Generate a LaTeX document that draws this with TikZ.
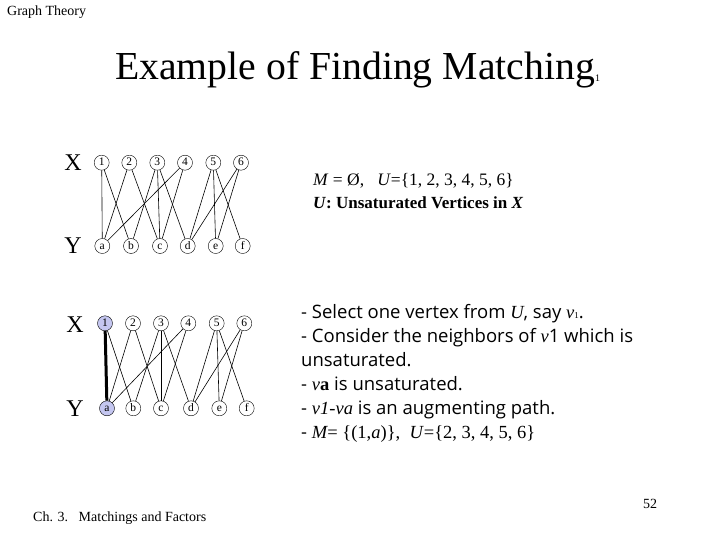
\documentclass[tikz,border=0pt]{standalone}
\usepackage{fontspec}
\setmainfont{Liberation Serif}
\newfontfamily\slidesans{Open Sans}
\usetikzlibrary{positioning}
\definecolor{matched}{RGB}{196,198,240}

\begin{document}
\begin{tikzpicture}[x=1pt, y=-1pt,
    vtx/.style={draw, circle, inner sep=0pt, minimum size=15pt, text height=0.66em, text depth=0.04em, font=\fontsize{11.5}{11.5}\selectfont},
    hit/.style={vtx, fill=matched},
    side/.style={inner sep=0pt, font=\fontsize{24}{24}\selectfont},
    txt/.style={anchor=base west, inner sep=0pt},
    note/.style={txt, font=\slidesans\fontsize{18.5}{20}\selectfont},
    ln/.style={line width=0.6pt},
    mln/.style={line width=3pt}
  ]
  \useasboundingbox (0,0) rectangle (720,540);

  \node[txt, font=\fontsize{14}{14}\selectfont] (head) at (7,16) {Graph Theory};
  \node[txt, font=\fontsize{39.7}{39.7}\selectfont] (title) at (115,80) {Example of Finding Matching};
  \node[txt, font=\fontsize{10}{10}\selectfont] (sub) at ([yshift=-2pt]title.base east) {1};

  \node[side] (ulx) at (73,163) {X};
  \node[side] (uly) at (73,246) {Y};
  \foreach \n/\xx in {1/101.7, 2/129.3, 3/157.3, 4/185, 5/213.3, 6/241}
    \node[vtx] (ux\n) at (\xx,162.7) {\n};
  \foreach \n/\xx in {a/102.3, b/131, c/160, d/187.7, e/215.7, f/242.7}
    \node[vtx] (uy\n) at (\xx,246) {\n};
  \foreach \s/\t in {1/a, 1/b, 2/a, 2/c, 3/b, 3/c, 3/d, 4/a, 4/c, 5/d, 5/e, 5/f, 6/d, 6/e}
    \draw[ln] (ux\s) -- (uy\t);

  \node[txt, font=\fontsize{17.5}{17.5}\selectfont] (mset) at (313,186)
    {\textit{M} = Ø,\enspace\ \textit{U}=\{1, 2, 3, 4, 5, 6\}};
  \node[txt, font=\bfseries\fontsize{17}{17}\selectfont] (uset) at (313,209)
    {\textit{U}: Unsaturated Vertices in \textit{X}};

  \node[side] (llx) at (75,325) {X};
  \node[side] (lly) at (75,409) {Y};
  \foreach \n/\xx in {2/133, 3/161, 4/188.3, 5/216.7, 6/244.3}
    \node[vtx] (lx\n) at (\xx,323.3) {\n};
  \node[hit] (lx1) at (105,323.3) {1};
  \foreach \n/\xx in {b/133.3, c/161, d/191, e/219.3, f/246.7}
    \node[vtx] (ly\n) at (\xx,408.3) {\n};
  \node[hit] (lya) at (107,408.3) {a};
  \foreach \s/\t in {1/b, 2/a, 2/c, 3/b, 3/c, 3/d, 4/a, 4/c, 5/d, 5/e, 5/f, 6/d, 6/e}
    \draw[ln] (lx\s) -- (ly\t);
  \draw[mln] (lx1) -- (lya);

  \node[note] (st1) at (301,318) {- Select one vertex from {\rmfamily\itshape U}, say {\rmfamily\itshape v}{\rmfamily\small 1}.};
  \node[note] (st2) at (301,342) {- Consider the neighbors of {\rmfamily\itshape v}1 which is};
  \node[note] (st3) at (301,366) {unsaturated.};
  \node[note] (st4) at (301,390) {- {\rmfamily\itshape v}{\rmfamily\bfseries a} is unsaturated.};
  \node[note] (st5) at (301,414) {- {\rmfamily\itshape v1-va} is an augmenting path.};
  \node[note] (st6) at (301,438) {- {\rmfamily\itshape M}{\rmfamily = \{(1,\textit{a})\},\enspace\textit{U}=\{2, 3, 4, 5, 6\}}};

  \node[txt, font=\fontsize{14}{14}\selectfont] (foot) at (33,521) {Ch. 3.\enspace\ Matchings and Factors};
  \node[txt, font=\fontsize{14}{14}\selectfont] (page) at (643,508) {52};
\end{tikzpicture}
\end{document}
